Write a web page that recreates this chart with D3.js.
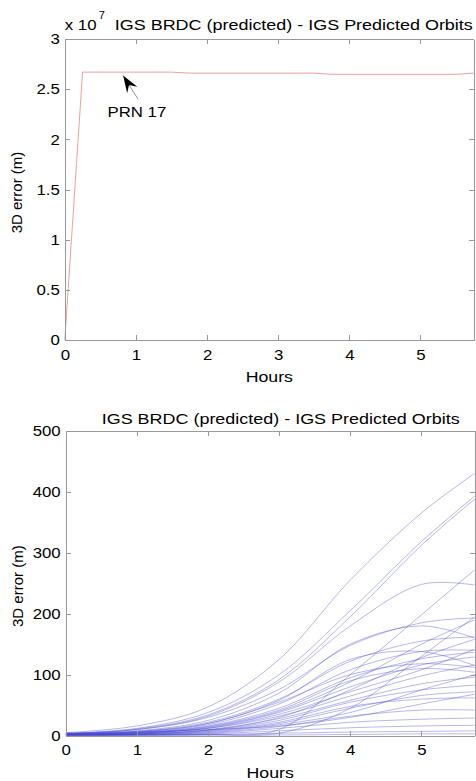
<!DOCTYPE html>
<html>
<head>
<meta charset="utf-8">
<script src="https://cdn.jsdelivr.net/npm/d3@7"></script>
<style>
body { margin: 0; background: #fff; }
text { font-family: "Liberation Sans", Arial, sans-serif; fill: #000; }
.frame path, .frame line { stroke: #999; shape-rendering: crispEdges; }
</style>
</head>
<body>
<svg id="chart" width="476" height="781"></svg>
<script>
// top panel: PRN 17, broadcast vs predicted
var hoursTop = [0, 0.25, 1.5, 1.75, 3.5, 3.75, 5.5, 5.75];
var prn17 = [0, 2.67e7, 2.67e7, 2.66e7, 2.66e7, 2.648e7, 2.648e7, 2.66e7];
var topTicks = [0, 0.5e7, 1e7, 1.5e7, 2e7, 2.5e7, 3e7];

// bottom panel: all the other satellites, sampled every hour
var hourTicks = [0, 1, 2, 3, 4, 5];
var hoursKnots = [0, 1, 2, 3, 4, 5, 5.75];
var bottomTicks = [0, 100, 200, 300, 400, 500];

var c01 = [5, 16, 47, 125, 255, 365, 430];
var c02 = [4, 12, 38, 100, 205, 318, 393];
var c03 = [3, 11, 34, 92, 195, 312, 388];
var c04 = [1, 1, 2, 10, 100, 198, 272];
var c05 = [3, 10, 32, 88, 180, 248, 247];
var c06 = [1, 1, 1, 4, 45, 130, 195];
var c07 = [4, 10, 30, 76, 148, 185, 193];
var c08 = [3, 8, 25, 70, 150, 180, 160];
var c09 = [2, 7, 22, 60, 122, 155, 162];
var c10 = [3, 6, 18, 52, 108, 138, 140];
var c11 = [2, 6, 20, 58, 125, 138, 115];
var c12 = [2, 5, 16, 45, 95, 126, 137];
var c13 = [1, 4, 13, 38, 80, 116, 129];
var c14 = [3, 5, 15, 42, 90, 110, 104];
var c15 = [2, 4, 12, 32, 65, 98, 116];
var c16 = [1, 3, 10, 28, 58, 85, 96];
var c17 = [2, 3, 9, 25, 55, 75, 83];
var c18 = [1, 2, 7, 20, 45, 66, 72];
var c19 = [2, 3, 8, 22, 48, 60, 62];
var c20 = [1, 2, 5, 15, 32, 42, 42];
var c21 = [1, 1, 4, 12, 22, 27, 29];
var c22 = [1, 1, 3, 8, 13, 16, 17];
var c23 = [0, 1, 2, 4, 6, 7, 8];
var c24 = [1, 1, 1, 1, 2, 3, 3];
var c25 = [2, 4, 14, 40, 88, 150, 190];
var c26 = [1, 3, 9, 30, 75, 128, 158];
var c27 = [3, 7, 20, 55, 100, 118, 112];
var c28 = [2, 5, 12, 35, 72, 108, 142];
var c29 = [1, 2, 6, 18, 38, 75, 100];
var c30 = [4, 6, 10, 16, 30, 52, 68];
var curves = [c01, c02, c03, c04, c05, c06, c07, c08, c09, c10, c11, c12, c13, c14, c15,
              c16, c17, c18, c19, c20, c21, c22, c23, c24, c25, c26, c27, c28, c29, c30];

var svg = d3.select("#chart");
var STRETCH = 1.18; // the original figure was stretched sideways

function stretch(sel, k){
  sel.each(function(){
    var w = this.getComputedTextLength();
    d3.select(this).attr("textLength", w * k).attr("lengthAdjust", "spacingAndGlyphs");
  });
}

// box with inward ticks on all four sides, like matlab
function frame(g, x, y, yTicks, yFmt){
  var w = x.range()[1], h = y.range()[0];
  var f = g.append("g").attr("class", "frame");
  f.append("g").attr("transform", "translate(0," + h + ")")
    .call(d3.axisBottom(x).tickValues(hourTicks).tickSizeInner(-5).tickSizeOuter(0).tickPadding(9).tickFormat(d3.format("d")));
  f.append("g")
    .call(d3.axisTop(x).tickValues(hourTicks).tickSizeInner(-5).tickSizeOuter(0).tickFormat(""));
  f.append("g")
    .call(d3.axisLeft(y).tickValues(yTicks).tickSizeInner(-5).tickSizeOuter(0).tickPadding(5).tickFormat(yFmt));
  f.append("g").attr("transform", "translate(" + w + ",0)")
    .call(d3.axisRight(y).tickValues(yTicks).tickSizeInner(-5).tickSizeOuter(0).tickFormat(""));
  f.selectAll("text").attr("font-size", 15).attr("font-family", null);
  stretch(f.selectAll("text"), 1.12);

  g.append("text")
    .attr("x", w / 2).attr("y", h + 42)
    .attr("text-anchor", "middle").attr("font-size", 15)
    .text("Hours").call(stretch, STRETCH);
  g.append("text")
    .attr("transform", "translate(-43," + (h / 2 + 3) + ") rotate(-90)")
    .attr("text-anchor", "middle").attr("font-size", 15)
    .text("3D error (m)");
}

// ---- top panel
var gTop = svg.append("g").attr("transform", "translate(64.8,39)");
var xTop = d3.scaleLinear().domain([0, 5.75]).range([0, 409]);
var yTop = d3.scaleLinear().domain([0, 3e7]).range([301, 0]);

gTop.append("path")
  .datum(d3.zip(hoursTop, prn17))
  .attr("fill", "none")
  .attr("stroke", "#eba0a0")
  .attr("stroke-width", 1)
  .attr("d", d3.line().x(function(d){ return xTop(d[0]); }).y(function(d){ return yTop(d[1]); }));

frame(gTop, xTop, yTop, topTicks, function(d){ return d3.format("~g")(d / 1e7); });

// exponent + title
gTop.append("text").attr("x", 0).attr("y", -9).attr("font-size", 15).text("x 10").call(stretch, 1.12);
gTop.append("text").attr("x", 34).attr("y", -20).attr("font-size", 11).text("7");
gTop.append("text").attr("x", 50).attr("y", -9).attr("font-size", 15)
  .attr("textLength", 358).attr("lengthAdjust", "spacingAndGlyphs")
  .text("IGS BRDC (predicted) - IGS Predicted Orbits");

// PRN 17 arrow
var tip = [xTop(0.82), yTop(2.635e7)];
var tail = [xTop(1.03), yTop(2.4e7)];
var dx = tip[0] - tail[0], dy = tip[1] - tail[1];
var len = Math.sqrt(dx * dx + dy * dy);
var ux = dx / len, uy = dy / len, nx = -uy, ny = ux;
gTop.append("line")
  .attr("x1", tail[0]).attr("y1", tail[1]).attr("x2", tip[0]).attr("y2", tip[1])
  .attr("stroke", "#777").attr("stroke-width", 0.8);
gTop.append("path")
  .attr("d", "M" + tip[0] + "," + tip[1] +
    "L" + (tip[0] - ux * 17 + nx * 6) + "," + (tip[1] - uy * 17 + ny * 6) +
    "L" + (tip[0] - ux * 11) + "," + (tip[1] - uy * 11) +
    "L" + (tip[0] - ux * 17 - nx * 6) + "," + (tip[1] - uy * 17 - ny * 6) + "Z")
  .attr("fill", "#000");
gTop.append("text")
  .attr("x", xTop(0.6)).attr("y", yTop(2.225e7))
  .attr("font-size", 15).text("PRN 17").call(stretch, 1.12);

// ---- bottom panel
var gBot = svg.append("g").attr("transform", "translate(65.7,430.7)");
var xBot = d3.scaleLinear().domain([0, 5.75]).range([0, 409]);
var yBot = d3.scaleLinear().domain([0, 500]).range([305, 0]);

gBot.append("clipPath").attr("id", "clipBot")
  .append("rect").attr("width", 409).attr("height", 305);

var line = d3.line()
  .curve(d3.curveCatmullRom.alpha(0.5))
  .x(function(d){ return xBot(d[0]); })
  .y(function(d){ return yBot(d[1]); });

gBot.append("g").attr("clip-path", "url(#clipBot)")
  .selectAll("path")
  .data(curves)
  .enter()
  .append("path")
  .attr("fill", "none")
  .attr("stroke", "#4a4ad2")
  .attr("stroke-opacity", 0.5)
  .attr("stroke-width", 0.8)
  .attr("d", function(d){ return line(d3.zip(hoursKnots, d)); });

frame(gBot, xBot, yBot, bottomTicks, d3.format("d"));

gBot.append("text").attr("x", 36).attr("y", -6.5).attr("font-size", 15)
  .attr("textLength", 358).attr("lengthAdjust", "spacingAndGlyphs")
  .text("IGS BRDC (predicted) - IGS Predicted Orbits");
</script>
</body>
</html>
